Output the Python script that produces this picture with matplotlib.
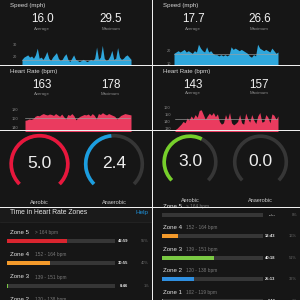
import matplotlib
matplotlib.use('Agg')
import matplotlib.pyplot as plt
from matplotlib.patches import Rectangle, Arc
import numpy as np

plt.rcParams['font.family'] = ['Liberation Sans', 'DejaVu Sans']

# ---------------- data ----------------
speed_left = [17, 19, 20, 21, 19, 20, 18, 21, 27, 18, 19, 17, 20, 24, 18, 16, 19, 21, 23, 18,
              16, 17, 20, 22, 17, 15, 18, 21, 17, 16, 15, 16, 17, 16, 15, 16, 17, 16, 18, 28,
              17, 19, 29.5, 18, 16, 17, 20, 25, 17, 18, 27.5, 19, 17, 18, 20, 21, 19, 17]
speed_right = [18, 19, 20, 19, 20, 21, 19, 20, 19, 18, 20, 19, 25, 22, 20, 19, 23, 19, 20, 18,
               17, 17, 16, 17, 16, 17, 16, 17, 23, 21, 22, 21, 20, 21, 20, 19, 18, 16, 15, 17,
               16, 25, 22, 21, 20, 21, 20, 19, 22, 20, 18, 19]
speed_left_avg, speed_left_max = 16.0, 29.5
speed_right_avg, speed_right_max = 17.7, 26.6
speed_left_ticks = [20, 30]
speed_right_ticks = [10, 20]

hr_left = [157, 158, 160, 159, 161, 166, 168, 167, 170, 172, 170, 169, 171, 170, 168, 172, 169,
           166, 171, 165, 160, 170, 168, 172, 167, 158, 163, 166, 168, 170, 169, 171, 167, 172,
           168, 160, 172, 170, 174, 171, 169, 172, 170, 168, 166, 160, 164, 168, 170, 172, 171,
           170, 169]
hr_right = [128, 130, 133, 136, 140, 138, 145, 142, 148, 144, 150, 146, 156, 157, 150, 143, 148,
            152, 149, 153, 147, 151, 140, 136, 138, 150, 142, 153, 138, 135, 137, 140, 150, 138,
            136, 152, 144, 139, 150, 142, 137, 148, 153, 139, 140, 150, 146, 138, 151, 149, 143,
            148]
hr_left_avg, hr_left_max = 163, 178
hr_right_avg, hr_right_max = 143, 157
hr_left_ticks = [140, 160, 180]
hr_right_ticks = [130, 140, 150, 160]

te_labels = ['Aerobic', 'Anaerobic']
te_left = [5.0, 2.4]
te_right = [3.0, 0.0]
te_max = 5.0

zone_names = ['Zone 5', 'Zone 4', 'Zone 3', 'Zone 2', 'Zone 1']
zone_ranges = ['> 164 bpm', '152 - 164 bpm', '139 - 151 bpm', '120 - 138 bpm', '102 - 119 bpm']
zone_left_pct = [55, 40, 1, 4]
zone_left_time = ['42:59', '30:55', '0:46', '2:58']
zone_left_pctlabel = ['55%', '40%', '1%', '4%']
zone_right_pct = [0, 16, 51, 32, 1]
zone_right_time = ['--:--', '12:43', '40:18', '25:13', '1:16']
zone_right_pctlabel = ['0%', '16%', '51%', '32%', '1%']

# ---------------- styles ----------------
W = H = 300
BG = '#161616'
WHITE = '#f2f2f2'
GREY = '#8a8a8a'
TRACK = '#363636'
SPEED_C = '#2fa7dc'
HR_C = '#ea3b5f'
zone_colors = ['#d9252f', '#f39a2b', '#7ac943', '#2f8fe0', '#9a9a9a']
gauge_left_colors = ['#e8163c', '#1b9ee0']
gauge_right_colors = ['#76d02a', '#1b9ee0']

fig = plt.figure(figsize=(3, 3), dpi=100, facecolor=BG)

bg = fig.add_axes([0, 0, 1, 1], zorder=0)
bg.set_xlim(0, W)
bg.set_ylim(H, 0)
bg.axis('off')
bg.add_patch(Rectangle((0, 0), W, H, color=BG, zorder=0))


def pax(x0, y0, x1, y1, z=2):
    a = fig.add_axes([x0 / W, 1 - y1 / H, (x1 - x0) / W, (y1 - y0) / H], zorder=z)
    a.set_facecolor('none')
    return a


def txt(x, y, s, size, color=WHITE, ha='left', weight='normal'):
    bg.text(x, y, s, fontsize=size, color=color, ha=ha, va='center', fontweight=weight)


# ---------------- charts ----------------
def chart(box, vals, ylim, ticks, avg, color, pad_px):
    a = pax(*box)
    x = np.arange(len(vals))
    a.fill_between(x, vals, ylim[0] - 100, color=color, lw=0)
    a.set_xlim(0, len(vals) - 1)
    a.set_ylim(*ylim)
    a.axhline(avg, color='#a0a0a0', lw=0.45)
    a.set_yticks(ticks)
    a.set_yticklabels([str(t) for t in ticks], fontsize=2.8, color=GREY)
    a.tick_params(axis='y', length=0, pad=pad_px * 0.72)
    a.set_xticks([])
    for s in a.spines.values():
        s.set_visible(False)
    return a


chart((22, 40, 131, 64), speed_left, (12.86, 34.29), speed_left_ticks, speed_left_avg, SPEED_C, 4.5)
chart((174, 40, 278, 65), speed_right, (9.0, 28.23), speed_right_ticks, speed_right_avg, SPEED_C, 3.0)
chart((25, 100, 131, 131), hr_left, (133.3, 202.2), hr_left_ticks, hr_left_avg, HR_C, 6.7)
chart((175, 100, 278, 131), hr_right, (126.1, 171.2), hr_right_ticks, hr_right_avg, HR_C, 4.3)

# panel headers and stats
for x0, avg, mx, cx1, cx2 in [(10, speed_left_avg, speed_left_max, 42.3, 110.7),
                              (162.7, speed_right_avg, speed_right_max, 193.3, 259.3)]:
    txt(x0, 6, 'Speed (mph)', 4.4, color='#d8d8d8')
    txt(cx1, 19.2, f'{avg:.1f}', 8.4, ha='center')
    txt(cx2, 19.2, f'{mx:.1f}', 8.4, ha='center')
    txt(cx1, 28.6, 'Average', 3.2, color=GREY, ha='center')
    txt(cx2, 28.6, 'Maximum', 3.2, color=GREY, ha='center')

for x0, avg, mx, cx1, cx2, yn in [(10, hr_left_avg, hr_left_max, 42.3, 110.5, 85.5),
                                  (162.7, hr_right_avg, hr_right_max, 193.3, 259.3, 84.5)]:
    txt(x0, 71.7, 'Heart Rate (bpm)', 4.4, color='#d8d8d8')
    txt(cx1, yn, f'{avg}', 8.4, ha='center')
    txt(cx2, yn, f'{mx}', 8.4, ha='center')
    txt(cx1, yn + 8.8, 'Average', 3.2, color=GREY, ha='center')
    txt(cx2, yn + 8.8, 'Maximum', 3.2, color=GREY, ha='center')

# ---------------- gauges ----------------
def gauge(cx, cy, r, value, color, label, label_y):
    a = pax(cx - 34, cy - 34, cx + 34, cy + 34, z=2)
    a.set_xlim(-34, 34)
    a.set_ylim(-34, 34)
    a.axis('off')
    a.add_patch(Arc((0, 0), 2 * r, 2 * r, theta1=-45, theta2=225, lw=2.6, color=TRACK))
    frac = value / te_max
    if frac > 0:
        a.add_patch(Arc((0, 0), 2 * r, 2 * r, theta1=225 - frac * 270, theta2=225,
                        lw=2.6, color=color))
    a.text(0, 0, f'{value:.1f}', fontsize=12.5, color='#eeeeee', ha='center', va='center')
    txt(cx, label_y, label, 4.0, color='#cfcfcf', ha='center')


gauge(39.5, 164, 28.3, te_left[0], gauge_left_colors[0], te_labels[0], 203)
gauge(114, 164, 28.3, te_left[1], gauge_left_colors[1], te_labels[1], 203)
gauge(190, 162, 25.8, te_right[0], gauge_right_colors[0], te_labels[0], 200.8)
gauge(260.5, 162, 25.8, te_right[1], gauge_right_colors[1], te_labels[1], 200.8)

# ---------------- zones ----------------
bg.add_patch(Rectangle((0, 207), 151, 15, color='#1a1a1a', zorder=0.5))
bg.plot([0, 151], [222, 222], color='#262626', lw=0.5)
txt(10, 212.5, 'Time in Heart Rate Zones', 4.9, color='#e6e6e6')
txt(148.5, 212.5, 'Help', 4.6, color='#1e90d8', ha='right')


def zones(box, row0, sp, pcts, times, plabels, first, name_x, range_x, time_x, pct_x):
    x0, y0, x1, y1 = box
    a = pax(*box)
    a.set_xlim(0, 100)
    a.set_ylim((y1 - row0) / sp, (y0 - row0) / sp)
    a.axis('off')
    h = 4.0 / sp
    n = len(pcts)
    rows = np.arange(n)
    a.barh(rows, [100] * n, height=h, color=TRACK, lw=0)
    a.barh(rows, pcts, height=h, color=zone_colors[first:first + n], lw=0)
    for i in range(n):
        yb = row0 + sp * i
        yl = yb - 8.6
        txt(name_x, yl, zone_names[first + i], 4.4, color='#e6e6e6')
        txt(range_x, yl, zone_ranges[first + i], 3.4, color='#7a7a7a')
        txt(time_x, yb, times[i], 2.9, color='#eeeeee', ha='right', weight='bold')
        txt(pct_x, yb, plabels[i], 2.9, color='#6a6a6a', ha='right')


zones((7.3, 207, 115, 300), 241, 22.3, zone_left_pct, zone_left_time, zone_left_pctlabel, 0,
      10, 35, 128.5, 149)
zones((161.7, 207, 263.3, 300), 215, 21.45, zone_right_pct, zone_right_time, zone_right_pctlabel, 0,
      163.3, 186, 275.5, 297)

# ---------------- dividers ----------------
ov = fig.add_axes([0, 0, 1, 1], zorder=10)
ov.set_facecolor('none')
ov.set_xlim(0, W)
ov.set_ylim(H, 0)
ov.axis('off')
for y in (64.6, 129.6, 206.6):
    ov.add_patch(Rectangle((0, y), W, 1.6, color='#efefef', lw=0))
ov.add_patch(Rectangle((151.6, 0), 1.8, H, color='#efefef', lw=0))

fig.savefig('out.png', dpi=100, facecolor=BG)
